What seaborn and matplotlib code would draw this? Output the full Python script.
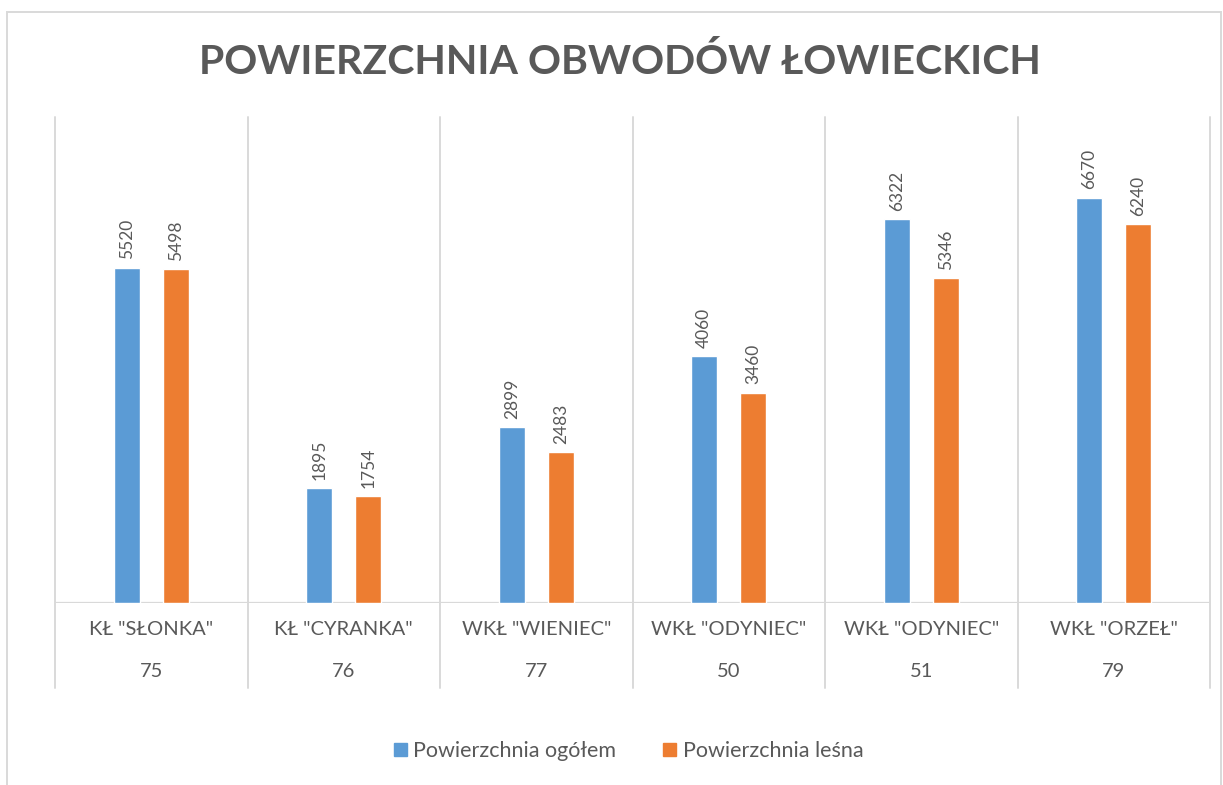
import pandas as pd
import numpy as np
import matplotlib.pyplot as plt
import matplotlib.patches as mpatches
import matplotlib.transforms as mtransforms
import seaborn as sns

# Dane z wykresu
obwody = ['KŁ "SŁONKA"', 'KŁ "CYRANKA"', 'WKŁ "WIENIEC"', 'WKŁ "ODYNIEC"', 'WKŁ "ODYNIEC"', 'WKŁ "ORZEŁ"']
numery = ['75', '76', '77', '50', '51', '79']
pow_ogolem = [5520, 1895, 2899, 4060, 6322, 6670]
pow_lesna = [5498, 1754, 2483, 3460, 5346, 6240]
serie = ['Powierzchnia ogółem', 'Powierzchnia leśna']
kolory = ['#5B9BD5', '#ED7D31']

etykiety = [f'{o}\n{n}' for o, n in zip(obwody, numery)]
df = pd.DataFrame({
    'Obwód': etykiety * 2,
    'Seria': [serie[0]] * len(etykiety) + [serie[1]] * len(etykiety),
    'Powierzchnia': pow_ogolem + pow_lesna,
})

sns.set_theme(style='white')
plt.rcParams['font.family'] = ['Lato', 'DejaVu Sans']
szary = '#595959'
linia = '#D9D9D9'

fig = plt.figure(figsize=(12.23, 7.85), dpi=100)
ax = fig.add_axes([0.045, 0.2318, 0.9444, 0.6192])

sns.barplot(data=df, x='Obwód', y='Powierzchnia', hue='Seria', palette=kolory,
            width=0.51, gap=0.47, saturation=1, ax=ax)

for c in ax.containers:
    ax.bar_label(c, fmt='{:.0f}', rotation=90, padding=6, color=szary, fontsize=12.5)

ax.set_ylim(0, 8000)
ax.set_xlim(-0.5, len(etykiety) - 0.5)
ax.set_yticks([])
ax.set_xlabel('')
ax.set_ylabel('')
for s in ax.spines.values():
    s.set_visible(False)

# Linie podziału kategorii (również przez obszar etykiet)
trans = mtransforms.blended_transform_factory(ax.transData, ax.transAxes)
for b in np.arange(-0.5, len(etykiety), 1):
    ax.plot([b, b], [-0.175, 1], transform=trans, color=linia, lw=1.4, clip_on=False, zorder=0)
ax.axhline(0, color=linia, lw=1.6, zorder=0)

ax.tick_params(axis='x', length=0, pad=13, labelsize=14.5, labelcolor=szary)
for lbl in ax.get_xticklabels():
    lbl.set_linespacing(2.75)

# Legenda
uchwyty = [mpatches.Patch(color=k) for k in kolory]
ax.get_legend().remove()
fig.legend(uchwyty, serie, loc='center', bbox_to_anchor=(0.514, 1 - 751 / 785), ncol=2,
           frameon=False, fontsize=15.5, handlelength=0.6, handleheight=0.6,
           handletextpad=0.3, columnspacing=2.2, labelcolor=szary)

fig.text(0.507, 1 - 62 / 785, 'POWIERZCHNIA OBWODÓW ŁOWIECKICH', ha='center', va='center',
         fontsize=29.5, fontweight='bold', color=szary)

# Ramka wykresu
fig.patches.append(mpatches.Rectangle((7 / 1223, -0.02), (1221 - 7) / 1223, (785 - 12) / 785 + 0.02,
                                      transform=fig.transFigure, fill=False, ec=linia, lw=1.4))

fig.savefig('out.png', dpi=100)
